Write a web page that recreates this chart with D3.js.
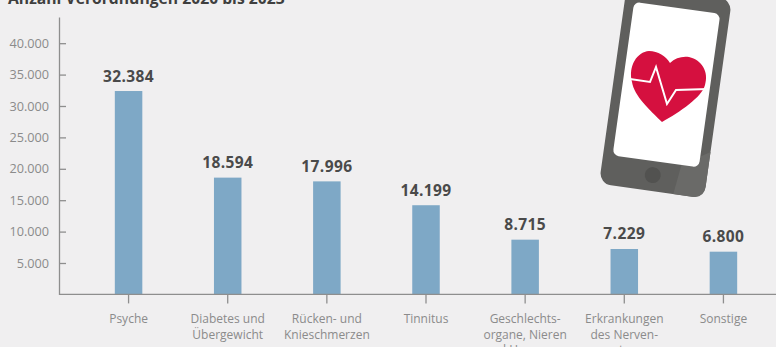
<!DOCTYPE html>
<html lang="de">
<head>
<meta charset="utf-8">
<script src="https://cdn.jsdelivr.net/npm/d3@7/dist/d3.min.js"></script>
<style>
  html, body { margin: 0; padding: 0; background: #f0eff0; overflow: hidden; }
  svg { display: block; font-family: "Open Sans", sans-serif; }
  .axis path, .axis line { stroke: #8e8e8e; stroke-width: 1.3; }
  .axis text { fill: #8b8b8b; }
</style>
</head>
<body>
<svg id="chart" width="776" height="347"></svg>
<script>
const chartTitle = "Anzahl Verordnungen 2020 bis 2023";
const categories = ["Psyche", "Diabetes", "Ruecken", "Tinnitus", "Geschlecht", "Nerven", "Sonstige"];
const categoryLines = [
  ["Psyche"],
  ["Diabetes und", "Übergewicht"],
  ["Rücken- und", "Knieschmerzen"],
  ["Tinnitus"],
  ["Geschlechts-", "organe, Nieren", "und Harnwege"],
  ["Erkrankungen", "des Nerven-", "systems"],
  ["Sonstige"]
];
const values = [32384, 18594, 17996, 14199, 8715, 7229, 6800];
const yTicks = [5000, 10000, 15000, 20000, 25000, 30000, 35000, 40000];

const svg = d3.select("#chart");
const german = d3.formatLocale({ decimal: ",", thousands: ".", grouping: [3], currency: ["", " €"] });
const fmt = german.format(",d");

const x = d3.scaleBand().domain(categories).range([79, 773]);
const y = d3.scaleLinear().domain([0, 44170]).range([294.4, 17]);
const barWidth = 27.5;

// Title, clipped by the top edge of the page
svg.append("text")
  .attr("x", 8).attr("y", 3.5)
  .attr("fill", "#3f3f3f")
  .attr("font-size", 15.7).attr("font-weight", 700)
  .text(chartTitle);

// Bars
svg.append("g").selectAll("rect")
  .data(values)
  .join("rect")
  .attr("x", (d, i) => x(categories[i]) + x.bandwidth() / 2 - barWidth / 2)
  .attr("y", d => y(d))
  .attr("width", barWidth)
  .attr("height", d => y(0) - y(d))
  .attr("fill", "#7ea8c6");

// Value labels
svg.append("g").selectAll("text")
  .data(values)
  .join("text")
  .attr("x", (d, i) => x(categories[i]) + x.bandwidth() / 2)
  .attr("y", d => y(d) - 9.5)
  .attr("text-anchor", "middle")
  .attr("fill", "#4a4a4a")
  .attr("font-size", 15.5).attr("font-weight", 700)
  .attr("letter-spacing", 0.4)
  .text(d => fmt(d));

// Vertical axis, ticks pointing into the plot
const yAxis = svg.append("g")
  .attr("class", "axis")
  .attr("transform", "translate(59,0)")
  .call(d3.axisLeft(y).tickValues(yTicks).tickFormat(fmt)
    .tickSizeInner(-7).tickSizeOuter(0).tickPadding(10));
yAxis.selectAll("text").attr("font-size", 12.7).attr("font-family", "'Open Sans', sans-serif");

// Horizontal axis with wrapped category names; the base line runs on to the page edge
const xAxis = svg.append("g")
  .attr("class", "axis")
  .attr("transform", `translate(0,${y(0)})`)
  .call(d3.axisBottom(x).tickSizeInner(9).tickSizeOuter(0).tickFormat(""));
xAxis.select(".domain").remove();
xAxis.append("line").attr("x1", 59).attr("x2", 776);
xAxis.selectAll(".tick text")
  .attr("y", 0)
  .attr("dy", null)
  .attr("font-size", 12)
  .attr("font-family", "'Open Sans', sans-serif")
  .each(function (d, i) {
    d3.select(this).selectAll("tspan")
      .data(categoryLines[i])
      .join("tspan")
      .attr("x", 0)
      .attr("y", (line, j) => 29 + j * 15.5)
      .text(line => line);
  });

// Phone illustration
const phone = svg.append("g");
phone.append("g")
  .attr("transform", "translate(665,95) rotate(8)")
  .call(g => {
    g.append("rect").attr("x", -53).attr("y", -104).attr("width", 106).attr("height", 201).attr("rx", 12).attr("fill", "#5f5f5d");
    g.append("path").attr("d", "M26 67 L53 50 L53 85 Q53 97 41 97 L22 97 Z").attr("fill", "#6a6a68");
    g.append("rect").attr("x", -43.5).attr("y", -88).attr("width", 87).attr("height", 155).attr("rx", 6).attr("fill", "#ffffff");
    g.append("circle").attr("cx", -1).attr("cy", 81).attr("r", 8).attr("fill", "#525250");
  });
phone.append("path")
  .attr("d", "M662 122 C650 110 634 96 632 82 C628 66 637 52 649 51 C658 51 666 56 670 63 C675 58 682 56 689 57 C702 60 709 72 705 85 C702 97 680 112 662 122Z")
  .attr("fill", "#d5103f");
phone.append("path")
  .attr("d", "M630 79 L650 82 L656 67 L667 104 L676 90 L708 89")
  .attr("fill", "none").attr("stroke", "#ffffff").attr("stroke-width", 2).attr("stroke-linejoin", "miter");
</script>
</body>
</html>
